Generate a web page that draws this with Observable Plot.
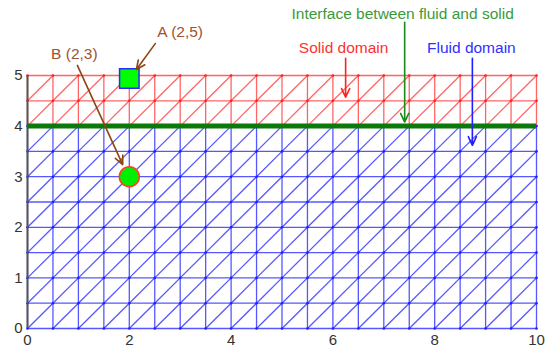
<!DOCTYPE html>
<html><head><meta charset="utf-8">
<script src="https://cdn.jsdelivr.net/npm/d3@7"></script>
<script src="https://cdn.jsdelivr.net/npm/@observablehq/plot@0.6"></script>
<style>body{margin:0;background:#fff;font-family:"Liberation Sans",Arial,sans-serif}</style>
</head><body><div id="chart"></div>
<script>
// mesh node coordinates
const meshX = [0,0.5,1,1.5,2,2.5,3,3.5,4,4.5,5,5.5,6,6.5,7,7.5,8,8.5,9,9.5,10];
const meshY = [0,0.5,1,1.5,2,2.5,3,3.5,4,4.5,5];
const interfaceY = 4;
const xTicks = [0,2,4,6,8,10];
const yTicks = [0,1,2,3,4,5];
// points of interest
const points = [{name:"A (2,5)", x:2, y:5, shape:"square"}, {name:"B (2,3)", x:2, y:3, shape:"circle"}];
// annotation labels and arrows (data coordinates)
const labels = [
  {text:"A (2,5)", x:3.0, y:5.85, color:"#a0522d"},
  {text:"B (2,3)", x:0.92, y:5.42, color:"#a0522d"},
  {text:"Interface between fluid and solid", x:7.37, y:6.21, color:"#3a9a3a"},
  {text:"Solid domain", x:6.21, y:5.55, color:"#ff3030"},
  {text:"Fluid domain", x:8.72, y:5.55, color:"#3030ff"}
];
const arrows = [
  {x1:2.51, y1:5.63, x2:2.14, y2:5.12, color:"#8b4513"},
  {x1:0.98, y1:5.20, x2:1.87, y2:3.24, color:"#8b4513"},
  {x1:7.41, y1:6.05, x2:7.41, y2:4.08, color:"#1a8a1a"},
  {x1:6.25, y1:5.34, x2:6.25, y2:4.57, color:"#ff2020"},
  {x1:8.74, y1:5.34, x2:8.74, y2:3.62, color:"#2020ff"}
];

const BLUE = "#3a3aff", RED = "#ff4a4a";
const segs = [];
// horizontal lines
for (const y of meshY) segs.push({x1:meshX[0], y1:y, x2:meshX[meshX.length-1], y2:y, dom: y > interfaceY ? "s" : "f"});
// vertical lines
for (const x of meshX) {
  segs.push({x1:x, y1:meshY[0], x2:x, y2:interfaceY, dom:"f"});
  segs.push({x1:x, y1:interfaceY, x2:x, y2:meshY[meshY.length-1], dom:"s"});
}
// diagonals
for (let i = 0; i < meshX.length-1; i++) for (let j = 0; j < meshY.length-1; j++) {
  segs.push({x1:meshX[i], y1:meshY[j], x2:meshX[i+1], y2:meshY[j+1], dom: meshY[j] >= interfaceY ? "s" : "f"});
}
const nodes = [];
for (const x of meshX) for (const y of meshY) nodes.push({x, y, dom: y > interfaceY ? "s" : "f"});

const chart = Plot.plot({
  width: 547, height: 352,
  marginLeft: 27, marginRight: 11, marginTop: 75, marginBottom: 24,
  x: {domain:[0,10]}, y: {domain:[0,5]},
  style: {fontFamily:"'Liberation Sans',Arial,sans-serif", fontSize:"15px", background:"#fff"},
  marks: [
    Plot.link(segs.filter(d=>d.dom==="f"), {x1:"x1", y1:"y1", x2:"x2", y2:"y2", stroke:BLUE, strokeWidth:1.3, strokeOpacity:0.85}),
    Plot.link(segs.filter(d=>d.dom==="s"), {x1:"x1", y1:"y1", x2:"x2", y2:"y2", stroke:RED, strokeWidth:1.3, strokeOpacity:0.85}),
    Plot.dot(nodes, {x:"x", y:"y", r:1.3, fill:d=>d.dom==="s" ? "#ff2020" : "#2020ff", stroke:"none"}),
    Plot.ruleX([0], {y1:0, y2:5, stroke:"#555", strokeWidth:2}),
    Plot.ruleY([interfaceY], {x1:0, x2:10, stroke:"#0b7a0b", strokeWidth:5}),
    Plot.axisX({ticks:xTicks, tickFormat:"d", tickSize:0, tickPadding:6, fontSize:15, color:"#333"}),
    Plot.axisY({ticks:yTicks, tickFormat:"d", tickSize:0, tickPadding:5, fontSize:15, color:"#333"}),
    Plot.dot(points.filter(d=>d.shape==="square"), {x:"x", y:"y", symbol:"square", r:11, dy:3, fill:"#00ff00", stroke:"#2a2aff", strokeWidth:1.5}),
    Plot.dot(points.filter(d=>d.shape==="circle"), {x:"x", y:"y", r:10, fill:"#00ee00", stroke:"#ff4020", strokeWidth:1.5}),
    Plot.arrow(arrows, {x1:"x1", y1:"y1", x2:"x2", y2:"y2", stroke:d=>d.color, strokeWidth:1.6, headLength:9, headAngle:50, clip:false}),
    Plot.text(labels, {x:"x", y:"y", text:"text", fill:d=>d.color, fontSize:15.5, clip:false})
  ]
});
document.getElementById("chart").appendChild(chart);
</script></body></html>
